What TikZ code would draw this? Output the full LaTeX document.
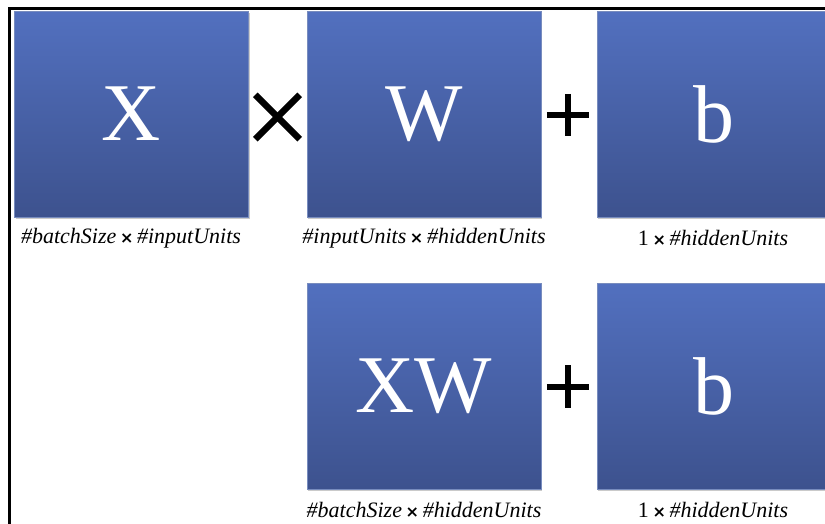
\documentclass[tikz,border=0pt]{standalone}
\usepackage{fontspec}
\setmainfont{Liberation Serif}
\newfontfamily\symfont{DejaVu Sans}
\usetikzlibrary{shadows}

\definecolor{boxtop}{RGB}{82,112,191}
\definecolor{boxmid}{RGB}{73,100,172}
\definecolor{boxbot}{RGB}{61,82,142}
\definecolor{boxedge}{RGB}{120,140,190}

\newcommand{\dimx}{\,{\symfont\bfseries\fontsize{16}{20}\selectfont ×}\,}

\begin{document}
\begin{tikzpicture}[x=1pt,y=-1pt,
  matbox/.style={rectangle, minimum width=234pt, minimum height=206pt, inner sep=0pt,
    top color=boxtop, middle color=boxmid, bottom color=boxbot,
    draw=boxedge, line width=0.5pt,
    drop shadow={shadow xshift=1.2pt, shadow yshift=-1.8pt, opacity=0.35, fill=black!60},
    text=white, font=\fontsize{82}{82}\selectfont},
  dimlabel/.style={font=\fontsize{22}{26}\selectfont\itshape, inner sep=0pt},
  opstroke/.style={line width=6.5pt, black},
  opnode/.style={minimum size=#1, inner sep=0pt},
]
\useasboundingbox (0,0) rectangle (825,523);
\clip (0,0) rectangle (825,523);

% outer frame
\draw[line width=2.5pt] (9.6,8.3) rectangle (900,600);

% first row: X * W + b
\node[matbox] (X)  at (131.5,114) {X};
\node[matbox] (W)  at (424,114)   {W};
\node[matbox] (b1) at (714,114)   {b};

\node[dimlabel] (lX)  at (131,238) {\#batchSize\dimx\#inputUnits};
\node[dimlabel] (lW)  at (424,238) {\#inputUnits\dimx\#hiddenUnits};
\node[dimlabel] (lb1) at (713,238) {{\upshape 1}\dimx\#hiddenUnits};

% second row: XW + b
\node[matbox] (XW) at (424,386) {XW};
\node[matbox] (b2) at (714,386) {b};

\node[dimlabel] (lXW) at (424,510) {\#batchSize\dimx\#hiddenUnits};
\node[dimlabel] (lb2) at (713,510) {{\upshape 1}\dimx\#hiddenUnits};

% operators
\node[opnode=44pt] (mul) at (277.5,117) {};
\draw[opstroke] (mul.north west) -- (mul.south east);
\draw[opstroke] (mul.north east) -- (mul.south west);

\node[opnode=42pt] (add1) at (568,115) {};
\draw[opstroke, line width=6pt] (add1.north) -- (add1.south);
\draw[opstroke, line width=6pt] (add1.west) -- (add1.east);

\node[opnode=42pt] (add2) at (568,386.5) {};
\draw[opstroke, line width=6pt] (add2.north) -- (add2.south);
\draw[opstroke, line width=6pt] (add2.west) -- (add2.east);
\end{tikzpicture}
\end{document}
